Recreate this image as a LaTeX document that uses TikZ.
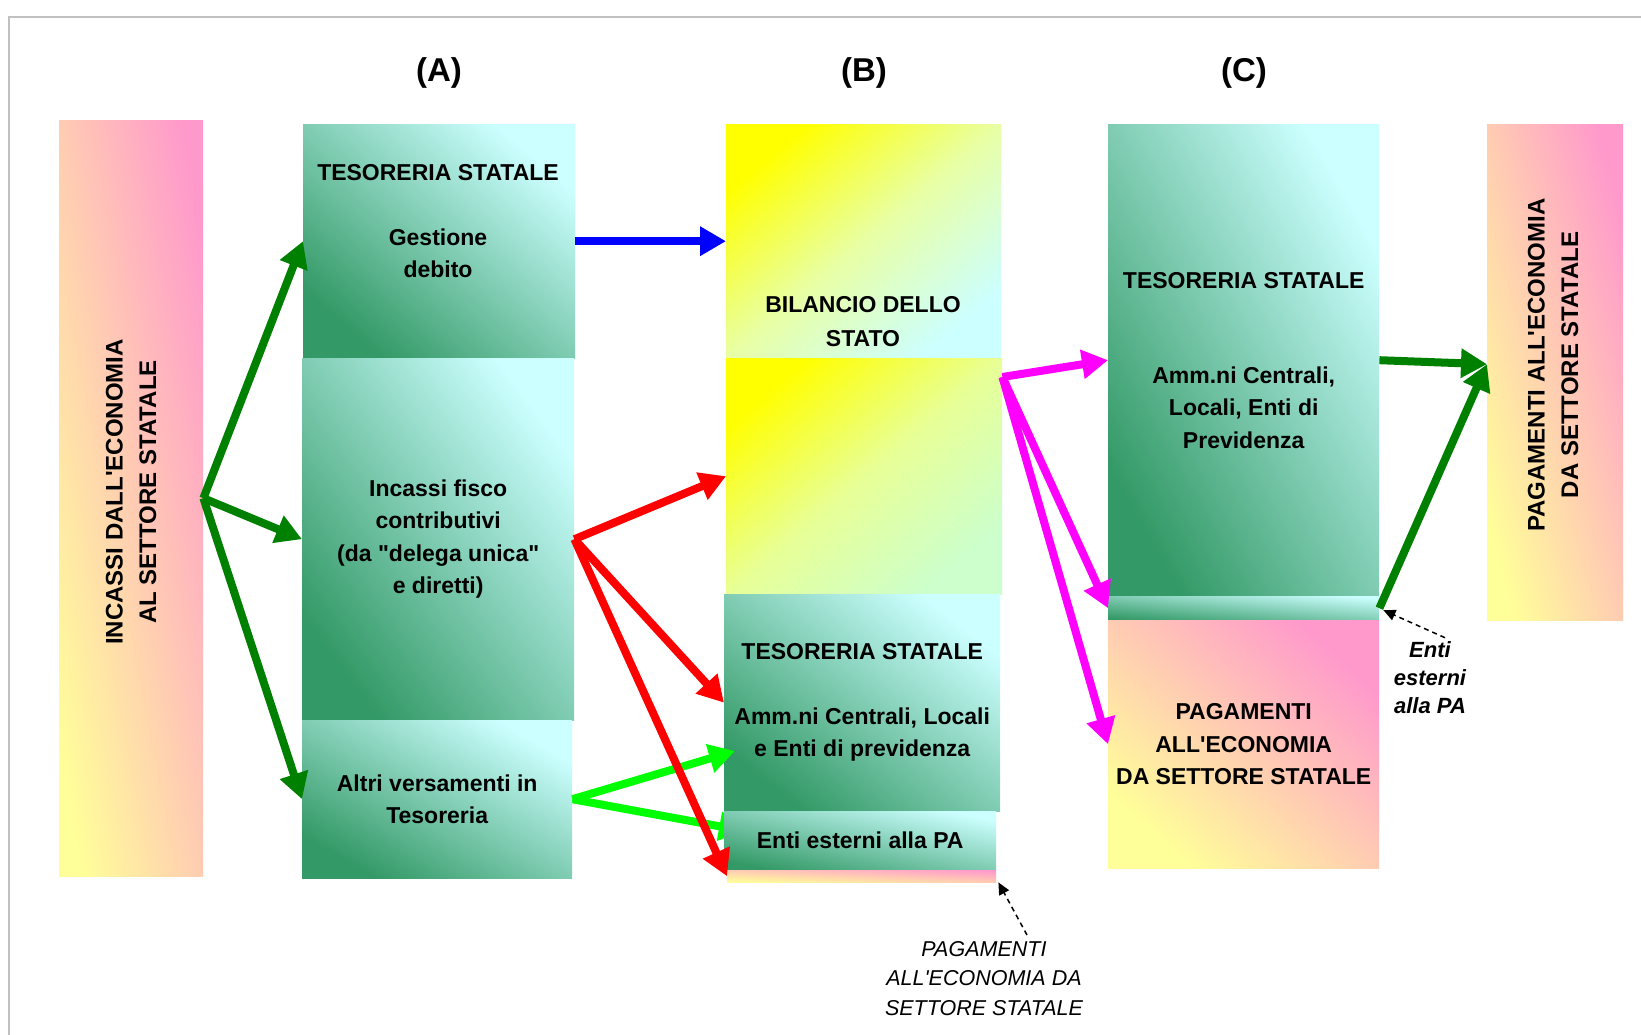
\documentclass[tikz,border=0pt]{standalone}
\usepackage{fontspec}
\newfontfamily\af{Liberation Sans}
\usetikzlibrary{arrows.meta,calc}

\definecolor{tealD}{RGB}{51,153,102}
\definecolor{tealL}{RGB}{204,255,255}
\definecolor{yelA}{RGB}{255,255,0}
\definecolor{ltgreen}{RGB}{204,255,204}
\definecolor{midYC}{RGB}{232,255,165}
\definecolor{midYG}{RGB}{232,255,150}
\definecolor{pinkC}{RGB}{255,153,204}
\definecolor{yelL}{RGB}{255,255,153}
\definecolor{grnA}{RGB}{0,128,0}
\definecolor{limeA}{RGB}{0,255,0}
\definecolor{magA}{RGB}{255,0,255}
\definecolor{blueA}{RGB}{0,0,255}
\definecolor{redA}{RGB}{255,0,0}
\definecolor{framegray}{RGB}{192,192,192}

\pgfdeclarelayer{bg}
\pgfdeclarelayer{mid}
\pgfsetlayers{bg,mid,main}

\begin{document}
\begin{tikzpicture}[x=1pt,y=-1pt,
  box/.style={draw=none, inner sep=0pt, anchor=north west, align=center,
    font=\af\bfseries\fontsize{23}{32.4}\selectfont},
  tealbox/.style={box, bottom color=tealD, top color=tealL, shading angle=-#1},
  tealbox/.default=45,
  yelcyan/.style={box, bottom color=tealL, top color=yelA, middle color=midYC, shading angle=#1},
  yelgreen/.style={box, bottom color=ltgreen, top color=yelA, middle color=midYG, shading angle=#1},
  pinkbox/.style={box, bottom color=yelL, top color=pinkC, shading angle=-#1},
  txt/.style={inner sep=0pt, align=center, font=\af\bfseries\fontsize{23}{32.4}\selectfont},
  vtxt/.style={inner sep=0pt, align=center, rotate=90, font=\af\bfseries\fontsize{24}{33.5}\selectfont},
  head/.style={inner sep=0pt, font=\af\bfseries\fontsize{33}{38}\selectfont},
  notebi/.style={inner sep=0pt, align=center, font=\af\bfseries\itshape\fontsize{22}{28}\selectfont},
  notei/.style={inner sep=0pt, align=center, font=\af\itshape\fontsize{21.5}{29.7}\selectfont},
  fat/.style={line width=8pt, -{Triangle[length=26pt,width=28pt]}},
  dasharrow/.style={line width=1.5pt, dash pattern=on 5pt off 4pt, -{Triangle[length=12pt,width=11pt]}}
]
\useasboundingbox (0,0) rectangle (1641,1035);
\begin{pgfonlayer}{bg}
  \fill[white] (0,0) rectangle (1641,1035);
  \draw[framegray, line width=2pt] (9,1040) -- (9,17) -- (1650,17);
\end{pgfonlayer}

% headers
\node[head] (hA) at (439,73) {(A)};
\node[head] (hB) at (864,73) {(B)};
\node[head] (hC) at (1244,73) {(C)};

% boxes
\node[pinkbox=79.2, minimum width=144pt, minimum height=756pt] (inc) at (59,120) {};
\node[tealbox=40.7, minimum width=272pt, minimum height=234pt] (a1) at (303,124) {};
\node[tealbox=53.1, minimum width=272pt, minimum height=362pt] (a2) at (302,358)
  {Incassi fisco\\contributivi\\(da "delega unica"\\e diretti)};
\node[tealbox=30.3, minimum width=270pt, minimum height=158pt] (a3) at (302,720)
  {Altri versamenti in\\Tesoreria};
\node[yelcyan=40.4, minimum width=275pt, minimum height=234pt] (b1) at (726,124) {};
\node[yelgreen=40.5, minimum width=276pt, minimum height=236pt] (b2) at (726,358) {};
\node[tealbox=38.2, minimum width=276pt, minimum height=217pt] (b3) at (724,594)
  {TESORERIA STATALE\\[32pt]Amm.ni Centrali, Locali\\e Enti di previdenza};
\node[tealbox=12.2, minimum width=272pt, minimum height=59pt] (b4) at (724,811)
  {Enti esterni alla PA};
\node[pinkbox=2.6, minimum width=269pt, minimum height=12pt] (b5) at (727,870) {};
\node[tealbox=60.1, minimum width=271pt, minimum height=472pt] (c1) at (1108,124)
  {TESORERIA STATALE\\[62.8pt]Amm.ni Centrali,\\Locali, Enti di\\Previdenza};
\node[tealbox=5.1, minimum width=271pt, minimum height=24pt] (c2) at (1108,596) {};
\node[pinkbox=42.5, minimum width=271pt, minimum height=248pt] (c3) at (1108,620)
  {PAGAMENTI\\ALL'ECONOMIA\\DA SETTORE STATALE};
\node[pinkbox=74.7, minimum width=136pt, minimum height=496pt] (pag) at (1487,124) {};

% free texts
\node[txt] (ta1) at (438,221) {TESORERIA STATALE\\[32.5pt]Gestione\\debito};
\node[txt] (tb1) at (863,321.5) {BILANCIO DELLO\\[1pt]STATO};
\node[vtxt] (tinc) at (131,492) {INCASSI DALL'ECONOMIA\\AL SETTORE STATALE};
\node[vtxt] (tpag) at (1553,365) {PAGAMENTI ALL'ECONOMIA\\DA SETTORE STATALE};
\node[notebi] (ent) at (1430,678) {Enti\\esterni\\alla PA};
\node[notei] (pae) at (984,978.5) {PAGAMENTI\\ALL'ECONOMIA DA\\SETTORE STATALE};

% arrows
\draw[fat, grnA] (inc.east) -- (a1.west);
\draw[fat, grnA] (inc.east) -- (a2.west);
\draw[fat, grnA] (inc.east) -- (a3.west);
\draw[fat, blueA] (a1.east) -- (b1.west);
\draw[fat, redA] (a2.east) -- (b2.west);
\draw[fat, redA] (a2.east) -- (b3.west);
\begin{pgfonlayer}{mid}
  \draw[fat, limeA] (a3.east) -- ([shift={(21pt,-20pt)}]b4.north west);
\end{pgfonlayer}
\draw[fat, limeA] (a3.east) -- ([shift={(11pt,-157pt)}]b3.north west);
\draw[fat, redA] (a2.east) -- (b5.west);
\coordinate (m0) at ([yshift=-19pt]b2.north east);
\draw[fat, magA] (m0) -- (c1.west);
\draw[fat, magA] (m0) -- (c2.west);
\draw[fat, magA] (m0) -- (c3.west);
\draw[fat, grnA] (c1.east) -- ([yshift=8pt]pag.west);
\draw[fat, grnA] (c2.east) -- ([yshift=8pt]pag.west);

\draw[dasharrow] ([shift={(15pt,4pt)}]ent.north) -- ([shift={(4pt,-2pt)}]c2.east);
\draw[dasharrow] ([shift={(43pt,6pt)}]pae.north) -- ([xshift=2pt]b5.south east);
\end{tikzpicture}
\end{document}
